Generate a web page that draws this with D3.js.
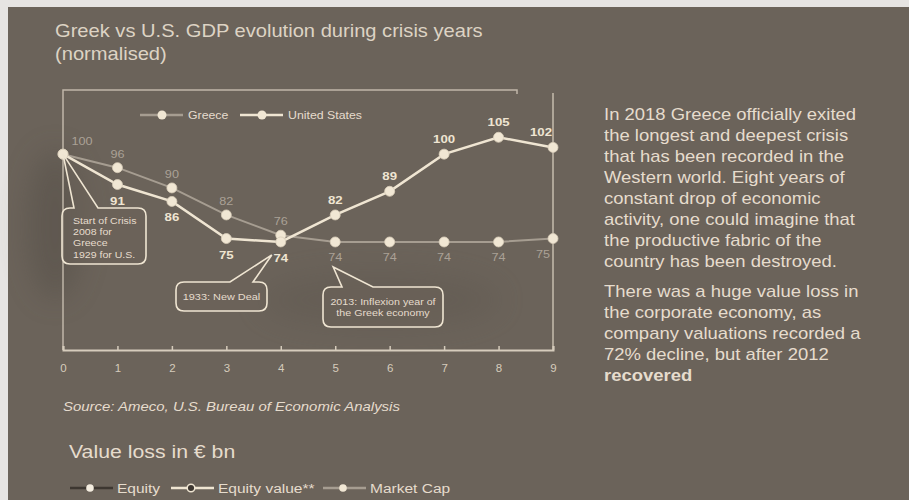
<!DOCTYPE html>
<html>
<head>
<meta charset="utf-8">
<script src="https://cdn.jsdelivr.net/npm/d3@7"></script>
<style>
  html, body { margin: 0; padding: 0; background: #e6e4e2; }
  svg { display: block; font-family: "Liberation Sans", Arial, sans-serif; }
</style>
</head>
<body>
<svg id="chart" width="909" height="500"></svg>
<script>
// Years since the start of each crisis (0 = 2008 for Greece, 1929 for the U.S.)
const years = [0, 1, 2, 3, 4, 5, 6, 7, 8, 9];
// Real GDP, normalised to 100 at the start of the crisis
const greece = [100, 96, 90, 82, 76, 74, 74, 74, 74, 75];
const unitedStates = [100, 91, 86, 75, 74, 82, 89, 100, 105, 102];
const xTickLabels = ["0", "1", "2", "3", "4", "5", "6", "7", "8", "9"];

const bodyLines1 = [
  "In 2018 Greece officially exited",
  "the longest and deepest crisis",
  "that has been recorded in the",
  "Western world. Eight years of",
  "constant drop of economic",
  "activity, one could imagine that",
  "the productive fabric of the",
  "country has been destroyed."
];
const bodyLines2 = [
  "There was a huge value loss in",
  "the corporate economy, as",
  "company valuations recorded a",
  "72% decline, but after 2012"
];
const bodyBold = "recovered";

const colors = {
  bg: "#6b635a",
  text: "#e6dccd",
  title: "#ddd3c4",
  axis: "#d6ccbc",
  greece: "#a69d91",
  us: "#efe5d2",
  dot: "#f1e7d4",
  greeceLabel: "#aaa196",
  dark: "#3d3731"
};

// The typeface is set slightly wide throughout this layout
const SX = 1.15;

const svg = d3.select("#chart");

// Text placed at (x, y) and widened horizontally
function wideText(parent, x, y, size, sx = SX) {
  return parent.append("text")
    .attr("transform", `translate(${x},${y}) scale(${sx},1)`)
    .attr("font-size", size);
}

// Panel background
svg.append("rect").attr("x", 8).attr("y", 7).attr("width", 901).attr("height", 493)
  .attr("fill", colors.bg);

// Soft shadow behind the chart area
const defs = svg.append("defs");
defs.append("filter").attr("id", "haze").attr("x", "-50%").attr("y", "-50%")
  .attr("width", "200%").attr("height", "200%")
  .append("feGaussianBlur").attr("stdDeviation", 14);
svg.append("ellipse").attr("cx", 55).attr("cy", 225).attr("rx", 28).attr("ry", 75)
  .attr("fill", "#4f4942").attr("opacity", 0.4).attr("filter", "url(#haze)");
svg.append("ellipse").attr("cx", 380).attr("cy", 300).attr("rx", 120).attr("ry", 28)
  .attr("fill", "#5a534b").attr("opacity", 0.3).attr("filter", "url(#haze)");

// Title
const title = wideText(svg, 55, 37, 17.5).attr("fill", colors.title);
title.append("tspan").attr("x", 0).attr("y", 0).text("Greek vs U.S. GDP evolution during crisis years");
title.append("tspan").attr("x", 0).attr("y", 23).text("(normalised)");

// Scales
const x = d3.scaleLinear().domain([0, 9]).range([63, 553]);
const y = d3.scaleLinear().domain([42, 119]).range([350, 90]);

// Frame
svg.append("path")
  .attr("d", `M${x(0)},${y(42)} V90 H517 v4`)
  .attr("fill", "none").attr("stroke", colors.axis).attr("stroke-width", 1.5).attr("opacity", 0.8);
svg.append("line").attr("x1", x(9)).attr("x2", x(9)).attr("y1", 93).attr("y2", y(42))
  .attr("stroke", colors.axis).attr("stroke-width", 1.5).attr("opacity", 0.85);

// X axis
const xAxis = svg.append("g").attr("transform", `translate(0,${y(42)})`)
  .call(d3.axisBottom(x).tickValues(years).tickFormat((d, i) => xTickLabels[i])
    .tickSize(-4).tickPadding(14));
xAxis.select(".domain").attr("stroke", colors.axis).attr("stroke-width", 2);
xAxis.selectAll(".tick line").attr("stroke", colors.axis).attr("stroke-width", 1.5);
xAxis.selectAll(".tick text").attr("fill", colors.axis).attr("font-size", 11.5)
  .attr("font-family", "Liberation Sans, Arial, sans-serif");

// Lines
const line = d3.line().x((d, i) => x(years[i])).y(d => y(d));
svg.append("path").datum(greece).attr("d", line).attr("fill", "none")
  .attr("stroke", colors.greece).attr("stroke-width", 2);
svg.append("path").datum(unitedStates).attr("d", line).attr("fill", "none")
  .attr("stroke", colors.us).attr("stroke-width", 2.5);

// Markers
[greece, unitedStates].forEach(series => {
  svg.append("g").selectAll("circle").data(series).join("circle")
    .attr("cx", (d, i) => x(years[i])).attr("cy", d => y(d)).attr("r", 5)
    .attr("fill", colors.dot).attr("stroke", "#d8cdb9").attr("stroke-width", 0.8);
});

// Value labels: Greece above until the trough, then below
const gLabels = svg.append("g");
greece.forEach((d, i) => {
  const lx = x(years[i]) + (i === 0 ? 19 : i === 9 ? -10 : 0);
  const ly = i === 0 ? y(d) - 9 : i < 5 ? y(d) - 10 : y(d) + 19;
  wideText(gLabels, lx, ly, 11).attr("text-anchor", "middle")
    .attr("fill", colors.greeceLabel).text(d);
});

// United States labels: below while falling, above while recovering
const uLabels = svg.append("g");
unitedStates.forEach((d, i) => {
  if (i === 0) return;
  const lx = x(years[i]) + (i === 9 ? -12 : 0);
  const ly = i < 5 ? y(d) + 20 : y(d) - 11;
  wideText(uLabels, lx, ly, 11.5).attr("text-anchor", "middle")
    .attr("font-weight", "bold").attr("fill", colors.us).text(d);
});

// Legend
const legend = [
  { name: "Greece", color: colors.greece, x0: 140 },
  { name: "United States", color: colors.us, x0: 240 }
];
legend.forEach(l => {
  svg.append("line").attr("x1", l.x0).attr("x2", l.x0 + 43).attr("y1", 115).attr("y2", 115)
    .attr("stroke", l.color).attr("stroke-width", 2.5);
  svg.append("circle").attr("cx", l.x0 + 22).attr("cy", 115).attr("r", 4.5).attr("fill", colors.dot);
  wideText(svg, l.x0 + 48, 119, 11.2, 1.1).attr("fill", colors.text).text(l.name);
});

// Callouts: rounded box with a pointer to the point of interest
function callout(bx, by, bw, bh, px1, px2, tipX, tipY, lines, opts) {
  const r = 8;
  const p = d3.path();
  p.moveTo(bx + r, by);
  p.lineTo(px1, by);
  p.lineTo(tipX, tipY);
  p.lineTo(px2, by);
  p.lineTo(bx + bw - r, by);
  p.quadraticCurveTo(bx + bw, by, bx + bw, by + r);
  p.lineTo(bx + bw, by + bh - r);
  p.quadraticCurveTo(bx + bw, by + bh, bx + bw - r, by + bh);
  p.lineTo(bx + r, by + bh);
  p.quadraticCurveTo(bx, by + bh, bx, by + bh - r);
  p.lineTo(bx, by + r);
  p.quadraticCurveTo(bx, by, bx + r, by);
  svg.append("path").attr("d", p.toString()).attr("fill", colors.bg).attr("fill-opacity", 0.55)
    .attr("stroke", colors.us).attr("stroke-width", 1.6);
  const mid = opts.align === "middle";
  const t = wideText(svg, mid ? bx + bw / 2 : bx + 11, by + opts.first, opts.size)
    .attr("fill", colors.text).attr("text-anchor", mid ? "middle" : "start");
  lines.forEach((s, i) => {
    t.append("tspan").attr("x", 0).attr("y", i * opts.lead).text(s);
  });
}

callout(62, 208, 84, 56, 74, 98, x(0), y(100),
  ["Start of Crisis", "2008 for", "Greece", "1929 for U.S."],
  { size: 9.2, first: 16, lead: 11.2, align: "start" });
callout(176, 282, 91, 29, 230, 253, x(4) - 9, y(74) + 13,
  ["1933: New Deal"], { size: 9.5, first: 17.5, align: "middle", lead: 0 });
callout(323, 287, 120, 40, 342, 373, x(5) - 2, y(74) + 25,
  ["2013: Inflexion year of", "the Greek economy"],
  { size: 9.3, first: 18, lead: 11.5, align: "middle" });

// Commentary
const body = wideText(svg, 604, 120, 16.2, 1.14).attr("fill", colors.text);
bodyLines1.forEach((s, i) => body.append("tspan").attr("x", 0).attr("y", i * 21).text(s));
bodyLines2.forEach((s, i) => body.append("tspan").attr("x", 0).attr("y", 177 + i * 21).text(s));
body.append("tspan").attr("x", 0).attr("y", 177 + 4 * 21).attr("font-weight", "bold").text(bodyBold);

// Source note
wideText(svg, 63, 411, 13).attr("font-style", "italic")
  .attr("fill", colors.text).text("Source: Ameco, U.S. Bureau of Economic Analysis");

// Second section heading
wideText(svg, 69, 458, 18.5).attr("fill", colors.text).text("Value loss in € bn");

// Second section legend
const legend2 = [
  { name: "Equity", line: colors.dark, dot: "#f4ede0", dotStroke: "none", x0: 70 },
  { name: "Equity value**", line: colors.us, dot: colors.dark, dotStroke: colors.us, x0: 171 },
  { name: "Market Cap", line: colors.greece, dot: colors.dot, dotStroke: "none", x0: 323 }
];
legend2.forEach(l => {
  svg.append("line").attr("x1", l.x0).attr("x2", l.x0 + 43).attr("y1", 488).attr("y2", 488)
    .attr("stroke", l.line).attr("stroke-width", 2.5);
  svg.append("circle").attr("cx", l.x0 + 20).attr("cy", 488).attr("r", 3.8)
    .attr("fill", l.dot).attr("stroke", l.dotStroke).attr("stroke-width", 1.5);
  wideText(svg, l.x0 + 47, 492.5, 13.5).attr("fill", colors.text).text(l.name);
});
</script>
</body>
</html>
